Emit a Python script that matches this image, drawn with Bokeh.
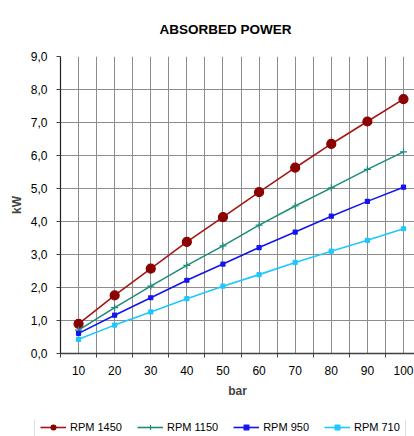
from bokeh.plotting import figure
from bokeh.models import (Range1d, FixedTicker, CustomJSTickFormatter, Legend, LegendItem)
from bokeh.embed import file_html
from bokeh.resources import INLINE

# ---- data ----
bar = [10, 20, 30, 40, 50, 60, 70, 80, 90, 100]
rpm_1450 = [0.90, 1.76, 2.57, 3.38, 4.13, 4.89, 5.63, 6.35, 7.03, 7.71]
rpm_1150 = [0.71, 1.39, 2.04, 2.67, 3.26, 3.89, 4.47, 5.02, 5.58, 6.11]
rpm_950 = [0.61, 1.16, 1.69, 2.22, 2.71, 3.21, 3.68, 4.16, 4.61, 5.04]
rpm_710 = [0.43, 0.86, 1.26, 1.66, 2.04, 2.39, 2.76, 3.10, 3.43, 3.78]
series_names = ["RPM 1450", "RPM 1150", "RPM 950", "RPM 710"]
x_ticks = [10, 20, 30, 40, 50, 60, 70, 80, 90, 100]
y_ticks = [0, 1, 2, 3, 4, 5, 6, 7, 8, 9]

FONT = "Liberation Sans"

p = figure(width=414, height=420, output_backend="svg", toolbar_location=None,
           x_range=Range1d(5, 103.05), y_range=Range1d(0, 9),
           title="ABSORBED POWER")
p.min_border_left = 60
p.min_border_right = 0
p.min_border_top = 53
p.min_border_bottom = 67
p.outline_line_color = None
p.background_fill_color = "white"
p.border_fill_color = "white"

p.title.text_font = FONT
p.title.text_font_size = "13.5px"
p.title.text_font_style = "bold"
p.title.text_color = "#000000"
p.title.align = "left"
p.title.offset = 99
p.title.standoff = 39

# grid
p.xgrid.ticker = FixedTicker(ticks=list(range(5, 105, 5)))
p.ygrid.ticker = FixedTicker(ticks=y_ticks)
p.xgrid.grid_line_color = "#8c8c8c"
p.ygrid.grid_line_color = "#8c8c8c"
p.xgrid.grid_line_width = 1
p.ygrid.grid_line_width = 1

# x axis
xa = p.xaxis[0]
xa.ticker = FixedTicker(ticks=x_ticks, minor_ticks=list(range(5, 100, 10)))
xa.major_tick_out = 0
xa.major_tick_in = 0
xa.minor_tick_out = 4
xa.minor_tick_in = 0
xa.minor_tick_line_color = "#404040"
xa.axis_line_color = "#404040"
xa.axis_line_width = 1.5
xa.major_label_standoff = 8
xa.major_label_text_font = FONT
xa.major_label_text_font_size = "12px"
xa.major_label_text_color = "#000000"
xa.axis_label = "bar"
xa.axis_label_text_font = FONT
xa.axis_label_text_font_size = "12px"
xa.axis_label_text_font_style = "bold"
xa.axis_label_standoff = 6

# y axis
ya = p.yaxis[0]
ya.ticker = FixedTicker(ticks=y_ticks)
ya.formatter = CustomJSTickFormatter(code="return tick.toFixed(1).replace('.', ',');")
ya.major_tick_out = 4
ya.major_tick_in = 0
ya.minor_tick_out = 0
ya.minor_tick_in = 0
ya.major_tick_line_color = "#404040"
ya.axis_line_color = "#202020"
ya.axis_line_width = 1.2
ya.major_label_standoff = 9
ya.major_label_text_font = FONT
ya.major_label_text_font_size = "12px"
ya.major_label_text_color = "#000000"
ya.axis_label = "kW"
ya.axis_label_text_font = FONT
ya.axis_label_text_font_size = "12px"
ya.axis_label_text_font_style = "bold"
ya.axis_label_standoff = 4

specs = [
    (rpm_1450, "#A51515", "#8B0000", "circle", 9),
    (rpm_1150, "#1E8C7A", "#1E8C7A", "cross", 7),
    (rpm_950, "#1414F0", "#1414F0", "square", 4),
    (rpm_710, "#1EC8FF", "#1EC8FF", "square", 4),
]
for (vals, lc, mc, mk, sz), name in zip(specs, series_names):
    p.line(bar, vals, line_color=lc, line_width=1.6)
    p.scatter(bar, vals, marker=mk, size=sz, fill_color=mc, line_color=mc,
              line_width=1.2)

# ---- legend strip (separate root figure below the chart) ----
q = figure(width=414, height=16, output_backend="svg", toolbar_location=None,
           x_axis_type=None, y_axis_type=None,
           x_range=Range1d(0, 1), y_range=Range1d(100, 101))
q.min_border_left = 0
q.min_border_right = 0
q.min_border_top = 0
q.min_border_bottom = 0
q.outline_line_color = None
q.xgrid.visible = False
q.ygrid.visible = False
q.background_fill_color = "white"
q.border_fill_color = "white"

items = []
for (vals, lc, mc, mk, sz), name in zip(specs, series_names):
    r1 = q.line(bar, vals, line_color=lc, line_width=1.6, visible=False)
    r2 = q.scatter(bar, vals, marker=mk, size=sz, fill_color=mc, line_color=mc,
                   line_width=1.2, visible=False)
    items.append(LegendItem(label=name, renderers=[r1, r2]))

legend = Legend(items=items, orientation="horizontal", location=(34, -3))
legend.label_text_font = FONT
legend.label_text_font_size = "11px"
legend.label_text_color = "#000000"
legend.glyph_width = 26
legend.glyph_height = 12
legend.label_height = 12
legend.label_standoff = 4
legend.spacing = 15
legend.padding = 5
legend.margin = 0
legend.border_line_color = "#c0c0c0"
legend.border_line_width = 1
legend.background_fill_color = "white"
legend.inactive_fill_alpha = 0
q.add_layout(legend, "center")

open("out.html", "w").write(file_html([p, q], INLINE))
